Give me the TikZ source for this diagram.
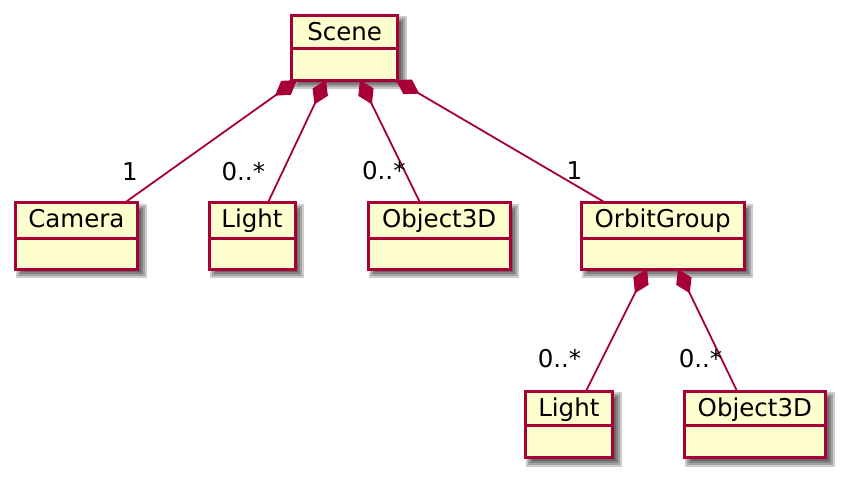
\documentclass[tikz,border=0pt]{standalone}
\usepackage{fontspec}
\setmainfont{DejaVu Sans}
\usetikzlibrary{arrows.meta,calc}
\definecolor{umlborder}{HTML}{A80036}
\definecolor{umlfill}{HTML}{FEFECE}
\pgfdeclarelayer{shadowlayer}
\pgfdeclarelayer{linklayer}
\pgfsetlayers{shadowlayer,linklayer,main}
\tikzset{
  objbox/.style={draw=umlborder, fill=umlfill, line width=3pt, inner sep=0pt, outer sep=0pt, anchor=north west, rectangle},
  objtitle/.style={font=\fontsize{24.5}{29}\selectfont, anchor=base, inner sep=0pt, text=black},
  divline/.style={draw=umlborder, line width=3pt},
  link/.style={draw=umlborder, line width=1.8pt, {Diamond[length=27pt,width=17pt]}-},
  mult/.style={font=\fontsize{24.5}{29}\selectfont, anchor=base, inner sep=0pt, text=black},
  shadowfill/.style={fill=black, opacity=0.2},
}
% name, left, top, width, height, divider offset, text
\newcommand\umlobj[7]{%
  \node[objbox, minimum width=#4pt, minimum height=#5pt] (#1) at (#2,#3) {};
  \draw[divline] ([yshift=-#6pt]#1.north west) -- ([yshift=-#6pt]#1.north east);
  \node[objtitle] (#1-t) at ([yshift=-25pt]#1.north) {#7};
  \begin{pgfonlayer}{shadowlayer}
    \foreach \e in {-2,0,2,4}{
      \fill[shadowfill] ({#2+5-\e},{#3+5-\e}) rectangle ({#2+#4+5+\e},{#3+#5+5+\e});
    }
  \end{pgfonlayer}
}
\begin{document}
\begin{tikzpicture}[x=1pt,y=-1pt]
\useasboundingbox (0,0) rectangle (851,483);

\umlobj{scene}{291.7}{15}{106}{65}{33.5}{Scene}
\umlobj{camera}{15}{202.5}{122.7}{66.5}{35.5}{Camera}
\umlobj{light}{209}{202.5}{86}{66.5}{35.5}{Light}
\umlobj{objA}{368.3}{202.5}{141.7}{66.5}{35.5}{Object3D}
\umlobj{orbit}{581}{202.5}{163.3}{66.5}{35.5}{OrbitGroup}
\umlobj{lightB}{525}{391}{87.7}{66.7}{34}{Light}
\umlobj{objB}{684}{391}{141.7}{66.7}{34}{Object3D}

\begin{pgfonlayer}{linklayer}
\draw[link] ([xshift=5.3pt]scene.south west) -- ([xshift=110pt]camera.north west);
\draw[link] ([xshift=34.3pt]scene.south west) -- ([xshift=59pt]light.north west);
\draw[link] ([xshift=68.3pt]scene.south west) -- ([xshift=51.7pt]objA.north west);
\draw[link] ([xshift=104.3pt]scene.south west) -- ([xshift=24pt]orbit.north west);
\draw[link] ([xshift=66pt]orbit.south west) -- ([xshift=61pt]lightB.north west);
\draw[link] ([xshift=97pt]orbit.south west) -- ([xshift=53pt]objB.north west);
\end{pgfonlayer}

\node[mult] (m1) at (130,180) {1};
\node[mult] (m2) at (243.3,180) {0..*};
\node[mult] (m3) at (383.8,179) {0..*};
\node[mult] (m4) at (574.5,179) {1};
\node[mult] (m5) at (559.5,367) {0..*};
\node[mult] (m6) at (700.5,367) {0..*};
\end{tikzpicture}
\end{document}
